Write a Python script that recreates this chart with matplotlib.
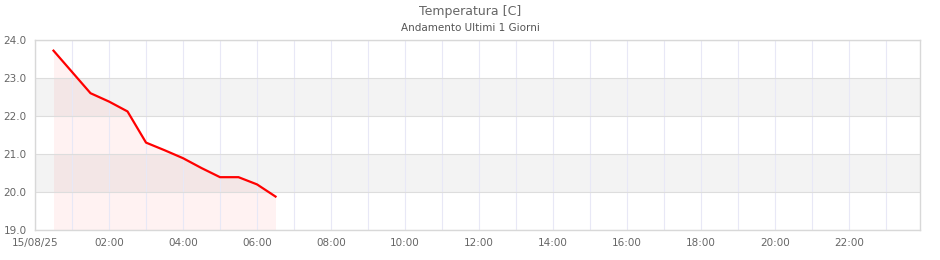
"""Temperature trend chart, last 1 day."""

from datetime import datetime

import matplotlib

matplotlib.use("Agg")
import matplotlib.dates as mdates
import matplotlib.pyplot as plt

times = ["00:30", "01:00", "01:30", "02:00", "02:30", "03:00", "03:30",
         "04:00", "04:30", "05:00", "05:30", "06:00", "06:30"]
temps = [23.72, 23.16, 22.60, 22.38, 22.12, 21.30, 21.10,
         20.89, 20.63, 20.39, 20.39, 20.20, 19.88]
day = "2025-08-15"
y_ticks = [19.0, 20.0, 21.0, 22.0, 23.0, 24.0]
bands = [(20.0, 21.0), (22.0, 23.0)]

x = [datetime.strptime(f"{day} {t}", "%Y-%m-%d %H:%M") for t in times]
start = datetime.strptime(f"{day} 00:00", "%Y-%m-%d %H:%M")
end = datetime.strptime(f"{day} 23:55", "%Y-%m-%d %H:%M")

fig = plt.figure(figsize=(9.4, 2.6), dpi=100)
ax = fig.add_axes([35 / 940, 30 / 260, 885 / 940, 190 / 260])

for lo, hi in bands:
    ax.axhspan(lo, hi, color="#f3f3f3", zorder=0, lw=0)

ax.fill_between(x, temps, y_ticks[0], color="#ff0000", alpha=0.05, lw=0, zorder=1)
ax.plot(x, temps, color="#ff0000", lw=1.6, zorder=3)

ax.set_xlim(start, end)
ax.set_ylim(y_ticks[0], y_ticks[-1])
ax.set_yticks(y_ticks)
ax.yaxis.set_major_formatter(matplotlib.ticker.FormatStrFormatter("%.1f"))

ax.xaxis.set_major_locator(mdates.HourLocator(byhour=range(0, 24, 2)))
ax.xaxis.set_minor_locator(mdates.HourLocator())


def _fmt(val, pos=None):
    d = mdates.num2date(val)
    return d.strftime("%d/%m/%y") if d.hour == 0 else d.strftime("%H:%M")


ax.xaxis.set_major_formatter(matplotlib.ticker.FuncFormatter(_fmt))

ax.grid(axis="x", which="both", color="#e8e8f6", lw=0.8, zorder=0)
ax.grid(axis="y", color="#dddddd", lw=0.8, zorder=0)
ax.tick_params(which="both", length=0, labelsize=7.5, colors="#666666", pad=6)
for side in ["left", "right", "top", "bottom"]:
    ax.spines[side].set_color("#d8d8d8")
    ax.spines[side].set_linewidth(1.0)

fig.text(0.5, 1 - 11 / 260, "Temperatura [C]", ha="center", va="center",
         fontsize=9, color="#666666")
fig.text(0.5, 1 - 28 / 260, "Andamento Ultimi 1 Giorni", ha="center", va="center",
         fontsize=7.5, color="#555555")

fig.savefig("out.png", dpi=100)
plt.close(fig)
